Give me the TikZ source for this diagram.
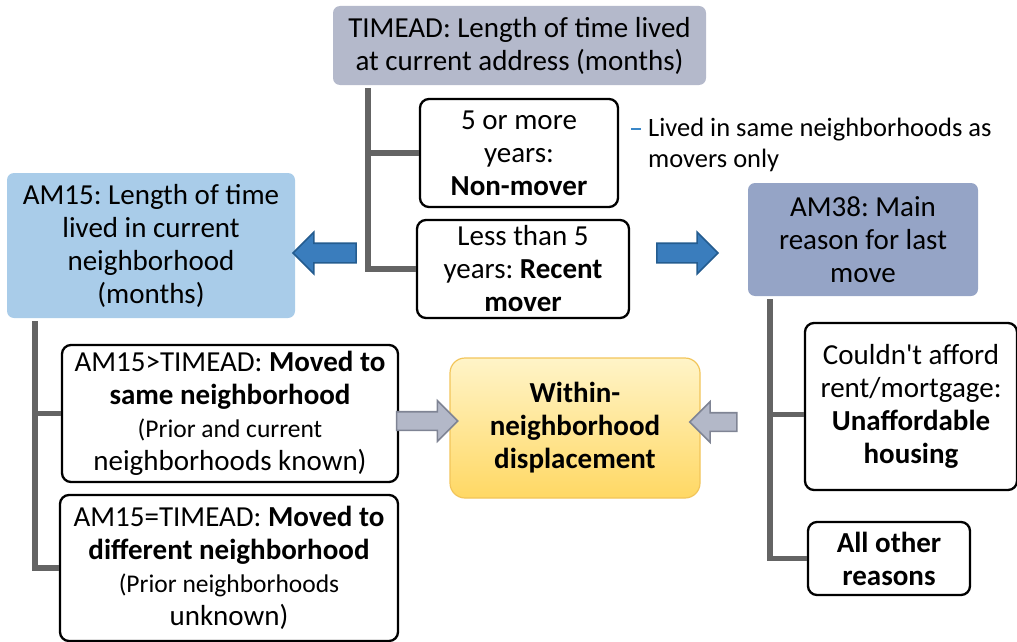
\documentclass[tikz,border=0pt]{standalone}
\usepackage{fontspec}
\setmainfont{Carlito}[Ligatures=TeXOff]
\usetikzlibrary{shapes.arrows}
\frenchspacing
\definecolor{treegray}{HTML}{646464}
\definecolor{hdrgray}{HTML}{B4B9CB}
\definecolor{hdrblue}{HTML}{A9CCE9}
\definecolor{hdrslate}{HTML}{95A4C6}
\definecolor{arrowblue}{HTML}{3A7DBD}
\definecolor{arrowblueedge}{HTML}{245C8F}
\definecolor{arrowgray}{HTML}{B3B8C8}
\definecolor{arrowgrayedge}{HTML}{7F8494}
\definecolor{noteblue}{HTML}{3A87C8}
\definecolor{yeltop}{HTML}{FFF4C8}
\definecolor{yelbot}{HTML}{FFD864}
\definecolor{yeledge}{HTML}{F2C55A}
\newcommand{\subtext}{\fontsize{25.5}{29.5}\selectfont}
\tikzset{
  mainfont/.style={font=\fontsize{29}{33}\selectfont},
  hdr/.style={mainfont, rounded corners=7pt, align=center, inner sep=0pt},
  box/.style={mainfont, draw=black, line width=2.3pt, rounded corners=9pt,
    fill=white, align=center, inner sep=0pt},
  tree/.style={draw=treegray, line width=5.5pt},
  bluearrow/.style={single arrow, draw=arrowblueedge, fill=arrowblue,
    line width=1.6pt, inner xsep=0pt, inner ysep=9pt,
    single arrow head extend=11pt, single arrow tip angle=90},
  grayarrow/.style={single arrow, draw=arrowgrayedge, fill=arrowgray,
    line width=1.6pt, inner xsep=0pt, inner ysep=8.5pt,
    single arrow head extend=11pt, single arrow tip angle=90},
}
\begin{document}
\begin{tikzpicture}[x=1pt,y=-1pt]
\useasboundingbox (0,0) rectangle (1017,642);

% header questions
\node[hdr, fill=hdrgray, minimum width=373pt, minimum height=79pt] (timead)
  at (519.5,45.5) {TIMEAD: Length of time lived\\at current address (months)};
\node[hdr, fill=hdrblue, minimum width=288pt, minimum height=145pt] (am15)
  at (151,245.5) {AM15: Length of time\\lived in current\\neighborhood\\(months)};
\node[hdr, fill=hdrslate, minimum width=230pt, minimum height=113pt] (am38)
  at (863,239.5) {AM38: Main\\reason for last\\move};

% TIMEAD categories
\node[box, minimum width=198pt, minimum height=108pt] (nonmover)
  at (519,153) {5 or more\\years:\\\textbf{Non-mover}};
\node[box, minimum width=212pt, minimum height=98pt] (recent)
  at (523,269) {Less than 5\\years: \textbf{Recent}\\\textbf{mover}};

\node[anchor=north west, inner sep=0pt, font=\fontsize{26.5}{31}\selectfont]
  (note) at (631,115)
  {\begin{tabular}{@{}l@{\hspace{7pt}}l@{}}
   \textcolor{noteblue}{\rule[7pt]{10pt}{1.8pt}} & Lived in same neighborhoods as\\
   & movers only
   \end{tabular}};

% AM15 categories
\node[box, minimum width=336pt, minimum height=137pt] (same)
  at (230,413.5) {AM15>TIMEAD: \textbf{Moved to}\\\textbf{same neighborhood}\\
  \subtext (Prior and current\\neighborhoods known)};
\node[box, minimum width=338pt, minimum height=146pt] (diff)
  at (229,568) {AM15=TIMEAD: \textbf{Moved to}\\\textbf{different neighborhood}\\
  \subtext (Prior neighborhoods\\unknown)};

% AM38 categories
\node[box, minimum width=212pt, minimum height=167pt] (afford)
  at (911,406.5) {Couldn't afford\\rent/mortgage:\\\textbf{Unaffordable}\\\textbf{housing}};
\node[box, minimum width=162pt, minimum height=73pt] (other)
  at (889,558.5) {\textbf{All other}\\\textbf{reasons}};

% outcome
\node[mainfont, draw=yeledge, line width=1.2pt, rounded corners=15pt,
  top color=yeltop, bottom color=yelbot, align=center, inner sep=0pt,
  minimum width=250pt, minimum height=140pt] (disp)
  at (575,428) {\textbf{Within-}\\\textbf{neighborhood}\\\textbf{displacement}};

% block arrows
\node[bluearrow, minimum height=63pt, shape border rotate=180] (toam15) at (329.5,253) {};
\node[bluearrow, minimum height=61pt] (toam38) at (682.5,253) {};
\node[grayarrow, minimum height=61pt] (fromsame) at (422.5,421) {};
\node[grayarrow, minimum height=47pt, shape border rotate=180] (fromafford) at (718,422) {};

% tree connectors
\coordinate (tx) at (368,0);
\coordinate (lx) at (35,0);
\coordinate (rx) at (770,0);
\draw[tree] ([yshift=-3pt]timead.south -| tx) |- (nonmover.west);
\draw[tree] ([yshift=-3pt]timead.south -| tx) |- (recent.west);
\draw[tree] ([yshift=-3pt]am15.south -| lx) |- (same.west);
\draw[tree] ([yshift=-3pt]am15.south -| lx) |- (diff.west);
\draw[tree] ([yshift=-3pt]am38.south -| rx) |- ([yshift=-8pt]afford.west);
\draw[tree] ([yshift=-3pt]am38.south -| rx) |- (other.west);
\end{tikzpicture}
\end{document}
